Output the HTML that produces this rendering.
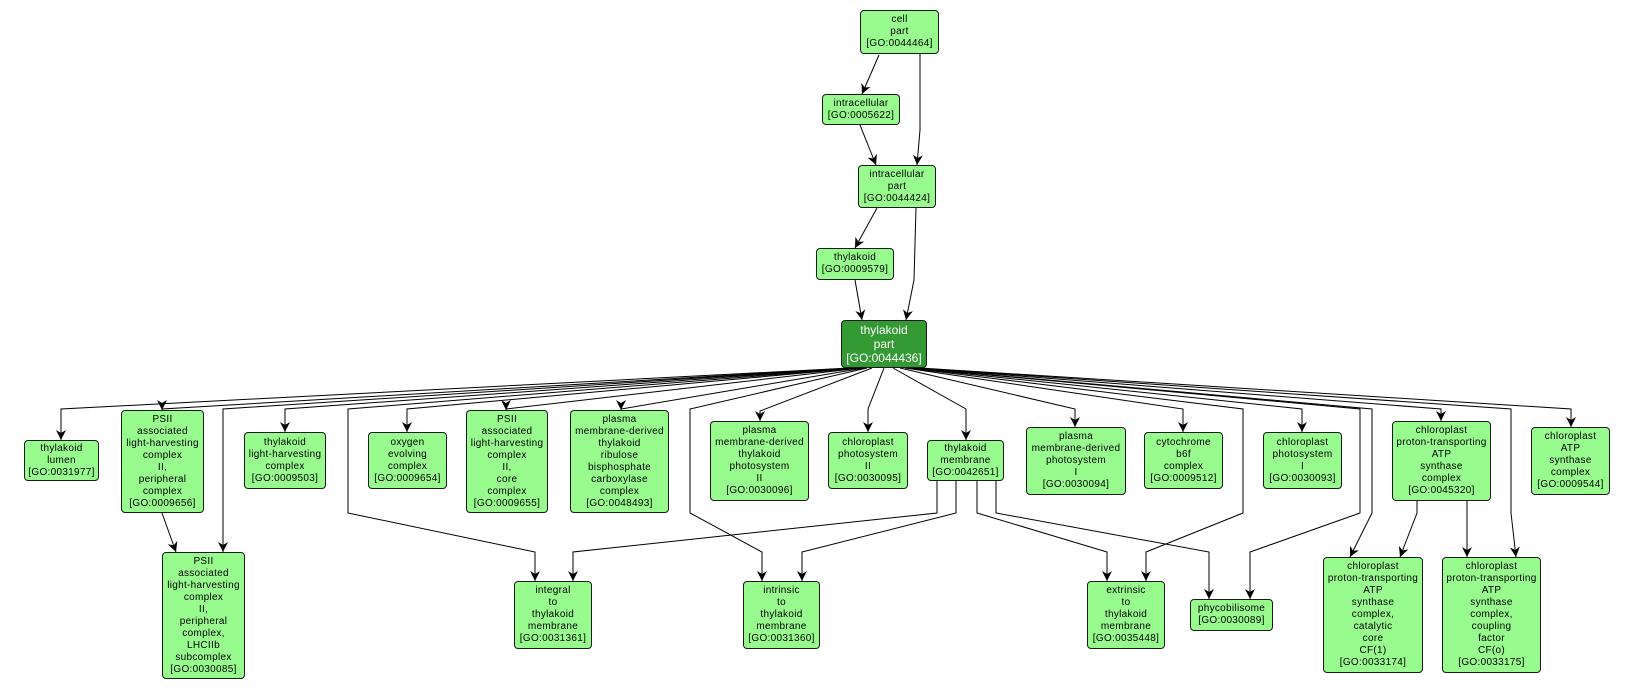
<!DOCTYPE html>
<html><head><meta charset="utf-8"><style>
html,body{margin:0;padding:0;background:#fff;}
#c{position:relative;width:1634px;height:691px;overflow:hidden;font-family:"Liberation Sans",sans-serif;}
svg{position:absolute;left:0;top:0;}
.n{position:absolute;box-sizing:border-box;background:#98fb8e;border:1px solid #1a1a1a;border-radius:4px;display:flex;align-items:center;justify-content:center;text-align:center;font-size:10px;line-height:12px;letter-spacing:0.3px;color:#000;white-space:nowrap;}
.d{background:#339933;color:#fff;font-size:12px;line-height:14px;letter-spacing:0;}
</style></head><body><div id="c">
<svg width="1634" height="691" viewBox="0 0 1634 691">
<defs><marker id="a" markerWidth="10" markerHeight="10" refX="10" refY="5" orient="auto" markerUnits="userSpaceOnUse"><path d="M0,0 L10,5 L0,10 L3,5 z" fill="#000"/></marker></defs>
<g fill="none" stroke="#000" stroke-width="1" marker-end="url(#a)">
<polyline points="879,55 862,94"/>
<polyline points="920,54 920,130 917,165"/>
<polyline points="860,125 876,165"/>
<polyline points="877,208 855,248"/>
<polyline points="916,208 914,280 906,320"/>
<polyline points="855,280 862,320"/>
<polyline points="850,368 61,409 61,440"/>
<polyline points="852,368 162,409 162,410"/>
<polyline points="853,368 223,409 223,552"/>
<polyline points="855,368 285,409 285,432"/>
<polyline points="857,368 348,409 348,513 535,552 535,581"/>
<polyline points="859,368 407,409 407,432"/>
<polyline points="861,368 506,409 506,410"/>
<polyline points="864,368 621,409 621,410"/>
<polyline points="867,368 690,409 690,513 762,552 762,581"/>
<polyline points="872,368 760,411 760,421"/>
<polyline points="884,368 868,409 868,432"/>
<polyline points="893,368 966,409 966,440"/>
<polyline points="900,368 1075,409 1075,427"/>
<polyline points="905,368 1183,409 1183,432"/>
<polyline points="908,368 1243,409 1243,513 1146,552 1146,581"/>
<polyline points="910,368 1302,409 1302,432"/>
<polyline points="912,368 1360,409 1360,513 1250,552 1250,599"/>
<polyline points="914,368 1372,409 1372,513 1350,557"/>
<polyline points="916,368 1441,409 1441,421"/>
<polyline points="918,368 1511,409 1511,513 1516,557"/>
<polyline points="920,368 1571,409 1571,427"/>
<polyline points="937,481 937,513 573,552 573,581"/>
<polyline points="956,481 956,513 802,552 802,581"/>
<polyline points="977,481 977,513 1107,552 1107,581"/>
<polyline points="996,481 996,513 1209,552 1209,599"/>
<polyline points="1417,501 1417,513 1400,557"/>
<polyline points="1467,501 1467,557"/>
<polyline points="162,513 176,552"/>
</g>
</svg>
<div class="n" style="left:860px;top:10px;width:79px;height:44px">cell<br>part<br>[GO:0044464]</div>
<div class="n" style="left:822px;top:94px;width:78px;height:31px">intracellular<br>[GO:0005622]</div>
<div class="n" style="left:858px;top:165px;width:78px;height:43px">intracellular<br>part<br>[GO:0044424]</div>
<div class="n" style="left:816px;top:248px;width:78px;height:32px">thylakoid<br>[GO:0009579]</div>
<div class="n d" style="left:841px;top:320px;width:86px;height:48px">thylakoid<br>part<br>[GO:0044436]</div>
<div class="n" style="left:24px;top:440px;width:75px;height:41px">thylakoid<br>lumen<br>[GO:0031977]</div>
<div class="n" style="left:121px;top:410px;width:83px;height:103px">PSII<br>associated<br>light-harvesting<br>complex<br>II,<br>peripheral<br>complex<br>[GO:0009656]</div>
<div class="n" style="left:162px;top:552px;width:83px;height:127px">PSII<br>associated<br>light-harvesting<br>complex<br>II,<br>peripheral<br>complex,<br>LHCIIb<br>subcomplex<br>[GO:0030085]</div>
<div class="n" style="left:244px;top:432px;width:82px;height:57px">thylakoid<br>light-harvesting<br>complex<br>[GO:0009503]</div>
<div class="n" style="left:368px;top:432px;width:79px;height:57px">oxygen<br>evolving<br>complex<br>[GO:0009654]</div>
<div class="n" style="left:466px;top:410px;width:82px;height:103px">PSII<br>associated<br>light-harvesting<br>complex<br>II,<br>core<br>complex<br>[GO:0009655]</div>
<div class="n" style="left:570px;top:410px;width:99px;height:103px">plasma<br>membrane-derived<br>thylakoid<br>ribulose<br>bisphosphate<br>carboxylase<br>complex<br>[GO:0048493]</div>
<div class="n" style="left:710px;top:421px;width:99px;height:80px">plasma<br>membrane-derived<br>thylakoid<br>photosystem<br>II<br>[GO:0030096]</div>
<div class="n" style="left:828px;top:432px;width:80px;height:57px">chloroplast<br>photosystem<br>II<br>[GO:0030095]</div>
<div class="n" style="left:927px;top:440px;width:77px;height:41px">thylakoid<br>membrane<br>[GO:0042651]</div>
<div class="n" style="left:1026px;top:427px;width:100px;height:68px">plasma<br>membrane-derived<br>photosystem<br>I<br>[GO:0030094]</div>
<div class="n" style="left:1144px;top:432px;width:79px;height:57px">cytochrome<br>b6f<br>complex<br>[GO:0009512]</div>
<div class="n" style="left:1263px;top:432px;width:79px;height:57px">chloroplast<br>photosystem<br>I<br>[GO:0030093]</div>
<div class="n" style="left:1392px;top:421px;width:99px;height:80px">chloroplast<br>proton-transporting<br>ATP<br>synthase<br>complex<br>[GO:0045320]</div>
<div class="n" style="left:1531px;top:427px;width:79px;height:68px">chloroplast<br>ATP<br>synthase<br>complex<br>[GO:0009544]</div>
<div class="n" style="left:514px;top:581px;width:78px;height:68px">integral<br>to<br>thylakoid<br>membrane<br>[GO:0031361]</div>
<div class="n" style="left:743px;top:581px;width:77px;height:68px">intrinsic<br>to<br>thylakoid<br>membrane<br>[GO:0031360]</div>
<div class="n" style="left:1087px;top:581px;width:78px;height:68px">extrinsic<br>to<br>thylakoid<br>membrane<br>[GO:0035448]</div>
<div class="n" style="left:1190px;top:599px;width:83px;height:32px">phycobilisome<br>[GO:0030089]</div>
<div class="n" style="left:1323px;top:557px;width:100px;height:116px">chloroplast<br>proton-transporting<br>ATP<br>synthase<br>complex,<br>catalytic<br>core<br>CF(1)<br>[GO:0033174]</div>
<div class="n" style="left:1442px;top:557px;width:99px;height:116px">chloroplast<br>proton-transporting<br>ATP<br>synthase<br>complex,<br>coupling<br>factor<br>CF(o)<br>[GO:0033175]</div>
</div></body></html>
